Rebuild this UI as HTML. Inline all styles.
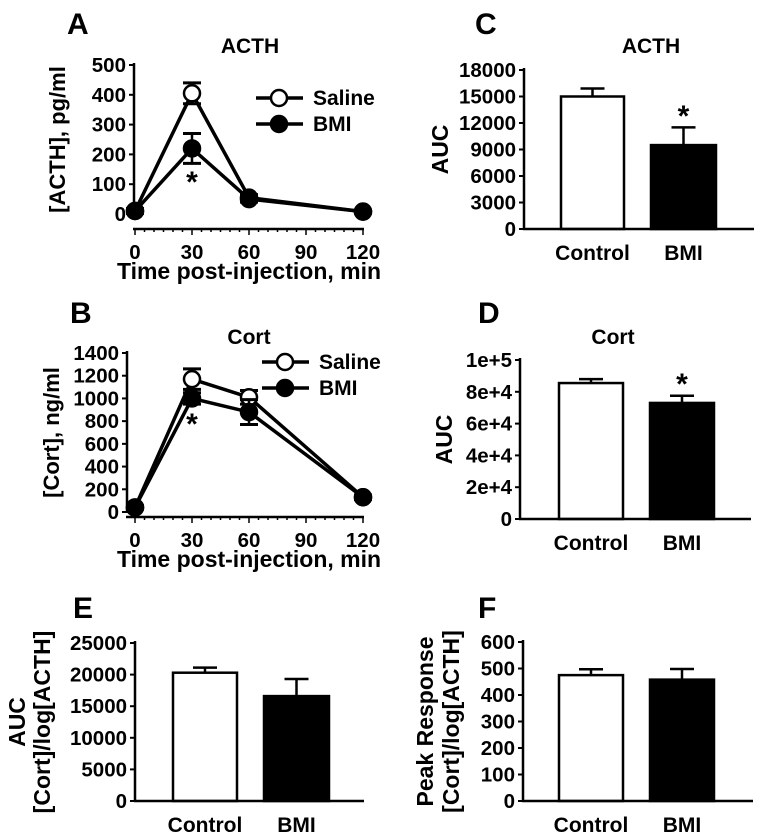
<!DOCTYPE html>
<html><head><meta charset="utf-8"><style>
html,body{margin:0;padding:0;background:#fff}
svg{display:block;font-family:"Liberation Sans",Arial,sans-serif;font-weight:bold}
</style></head><body>
<svg id="fig" width="762" height="840" viewBox="0 0 762 840"></svg>
<script>
const timeCategories=[0,30,60,120];
const acthSaline=[10,405,55,8];
const acthSalineErr=[8,35,10,5];
const acthBMI=[10,220,50,8];
const acthBMIErr=[8,50,10,5];
const cortSaline=[40,1170,1010,130];
const cortSalineErr=[15,90,60,20];
const cortBMI=[40,1000,880,130];
const cortBMIErr=[15,50,110,20];
const barCategories=["Control","BMI"];
const acthAUC=[15000,9500];
const acthAUCErr=[900,2000];
const cortAUC=[85500,73000];
const cortAUCErr=[2500,4500];
const ratioAUC=[20300,16600];
const ratioAUCErr=[800,2700];
const peakResp=[475,458];
const peakRespErr=[22,40];
const acthTicks=[0,100,200,300,400,500];
const cortTicks=[0,200,400,600,800,1000,1200,1400];
const timeTicks=[0,30,60,90,120];
const cAucTicks=[0,3000,6000,9000,12000,15000,18000];
const dAucTicks=[0,20000,40000,60000,80000,100000];
const dAucTickLabels=["0","2e+4","4e+4","6e+4","8e+4","1e+5"];
const eTicks=[0,5000,10000,15000,20000,25000];
const fTicks=[0,100,200,300,400,500,600];

const NS="http://www.w3.org/2000/svg";
const svg=document.getElementById('fig');
function el(tag,attrs,parent,text){const e=document.createElementNS(NS,tag);for(const k in attrs)e.setAttribute(k,attrs[k]);if(text!==undefined)e.textContent=text;(parent||svg).appendChild(e);return e;}
function txt(x,y,s,size,anchor,parent,name,rot){const t=el('text',{x:x,y:y,'font-size':size,'text-anchor':anchor||'middle',fill:'#000'},parent,s);


if(rot)t.setAttribute('transform','rotate(-90 '+x+' '+y+')');return t;}
function line(x1,y1,x2,y2,w,parent){return el('line',{x1:x1,y1:y1,x2:x2,y2:y2,stroke:'#000','stroke-width':w||2},parent);}

function yAxis(g,ax,y0,y1,ticks,labels,vmax){
  const sy=v=>y0-(y0-y1)*v/vmax;
  line(ax,y1-2,ax,y0+1,2.5,g);
  ticks.forEach((t,i)=>{line(ax-5,sy(t),ax,sy(t),2,g);txt(ax-8,sy(t)+7,labels?labels[i]:String(t),20.5,'end',g,'y-tick-label');});
  return sy;
}

function linePanel(name,letter,lx,ly,title,tx,ty,ax,y0,y1,ybase,ticks,vmax,s1,e1,s2,e2,ylab,ylx,legX,legY,starY){
  const g=el('g',{});
  
  
  txt(lx,ly,letter,30,'start',g,'panel-label');
  txt(tx,ty,title,21,'middle',g,'panel-title');
  const sy=yAxis(g,ax,y0,y1,ticks,null,vmax);
  const x0=135,x1=363;const sx=v=>x0+(x1-x0)*v/120;
  line(ax-1,ybase,x1+1,ybase,2.5,g);
  for(let v=0;v<=120;v+=5){line(sx(v),ybase,sx(v),ybase+(v%30===0?6:3),1.5,g);}
  timeTicks.forEach(t=>txt(sx(t),ybase+30,String(t),20.5,'middle',g,'x-tick-label'));
  txt(249,ybase+50,'Time post-injection, min',23,'middle',g,'x-axis-title');
  txt(ylx,(y0+y1)/2,ylab,22,'middle',g,'y-axis-title',true);
  [[s1,e1,'#fff','saline'],[s2,e2,'#000','bmi']].forEach(([s,e,f,nm])=>{
    const pts=timeCategories.map((t,i)=>sx(t)+','+sy(s[i])).join(' ');
    const pl=el('polyline',{points:pts,fill:'none',stroke:'#000','stroke-width':3.5},g);
    
    
    timeCategories.forEach((t,i)=>{
      const x=sx(t),yt=sy(s[i]+e[i]),yb=sy(s[i]-e[i]);
      line(x,yt,x,yb,2.5,g);line(x-9,yt,x+9,yt,3,g);line(x-9,yb,x+9,yb,3,g);
      const c=el('circle',{cx:x,cy:sy(s[i]),r:8,fill:f,stroke:'#000','stroke-width':2.5},g);
      
      
    });
  });
  txt(sx(30),starY,'*',30,'middle',g,'significance-star');
  [['Saline','#fff',legY],['BMI','#000',legY+26]].forEach(([lab,f,y])=>{
    const lg=el('g',{},g);
    
    
    line(legX,y,legX+47,y,3.5,lg);el('circle',{cx:legX+23,cy:y,r:8,fill:f,stroke:'#000','stroke-width':2.5},lg);
    txt(legX+57,y+7,lab,21,'start',lg,'legend-label');
  });
}

function barPanel(name,letter,lx,ly,title,tx,ty,ax,y0,y1,right,ticks,labels,vmax,vals,errs,bars,ylabs,ylxs,star,starY){
  const g=el('g',{});
  
  
  txt(lx,ly,letter,30,'start',g,'panel-label');
  if(title)txt(tx,ty,title,21,'middle',g,'panel-title');
  const sy=yAxis(g,ax,y0,y1,ticks,labels,vmax);
  vals.forEach((v,i)=>{
    const [bx,bw]=bars[i];const cx=bx+bw/2;
    line(cx,sy(v),cx,sy(v+errs[i]),2.5,g);line(cx-12,sy(v+errs[i]),cx+12,sy(v+errs[i]),2.5,g);
    const r=el('rect',{x:bx,y:sy(v),width:bw,height:y0-sy(v),fill:i?'#000':'#fff',stroke:'#000','stroke-width':2.5},g);
    
    
    txt(cx,y0+31,barCategories[i],21,'middle',g,'x-tick-label');
  });
  line(ax-1,y0,right,y0,2.5,g);
  ylabs.forEach((s,i)=>txt(ylxs[i],(y0+y1)/2,s,23,'middle',g,'y-axis-title',true));
  if(star)txt(bars[1][0]+bars[1][1]/2,starY,'*',30,'middle',g,'significance-star');
}

linePanel('panel-a-acth','A',67,34,'ACTH',250,53,134,214,65,229,acthTicks,500,acthSaline,acthSaline.map((v,i)=>acthSalineErr[i]),acthBMI,acthBMIErr,'[ACTH], pg/ml',65,256,98,192);
linePanel('panel-b-cort','B',70,323,'Cort',249,344,127,512,353,517,cortTicks,1400,cortSaline,cortSaline.map((v,i)=>cortSalineErr[i]),cortBMI,cortBMIErr,'[Cort], ng/ml',59,262,362,434);
barPanel('panel-c-acth-auc','C',475,34,'ACTH',651,53,524,229,70,754,cAucTicks,null,18000,acthAUC,acthAUCErr,[[561,63],[651,65]],['AUC'],[448],true,126);
barPanel('panel-d-cort-auc','D',478,323,'Cort',613,344,520,519,360,751,dAucTicks,dAucTickLabels,100000,cortAUC,cortAUCErr,[[559,64],[650,64]],['AUC'],[452],true,104+290);
barPanel('panel-e-ratio-auc','E',73,618,'',0,0,135,801,643,364,eTicks,null,25000,ratioAUC,ratioAUCErr,[[173,64],[264,65]],['AUC','[Cort]/log[ACTH]'],[25,50],false,0);
barPanel('panel-f-peak','F',478,618,'',0,0,523,801,642,753,fTicks,null,600,peakResp,peakRespErr,[[559,64],[650,64]],['Peak Response','[Cort]/log[ACTH]'],[433,459],false,0);
</script>
</body></html>
